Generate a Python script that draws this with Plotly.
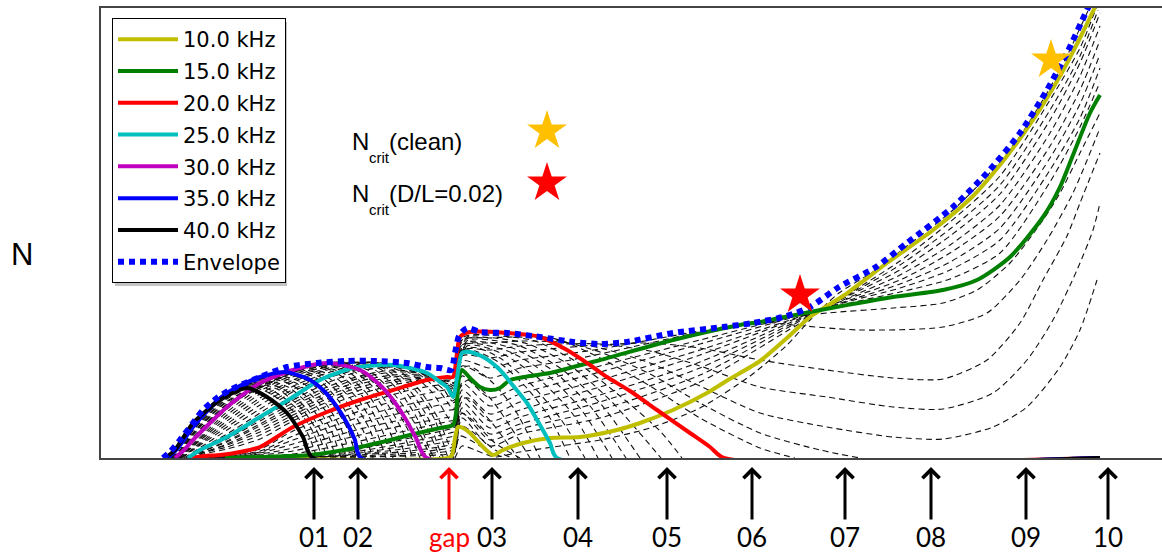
import plotly.graph_objects as go

# ---------------- data: position along the line (a.u.) vs N (a.u.) ----------------
freq_labels = ["10.0 kHz", "15.0 kHz", "20.0 kHz", "25.0 kHz", "30.0 kHz", "35.0 kHz", "40.0 kHz"]
freq_colors = ["#BFBF00", "#008000", "#FF0000", "#00BFBF", "#BF00BF", "#0000FF", "#000000"]

curve_10k = [(240, 0), (448, 0), (452, 3), (455, 20), (458, 31), (463, 30), (470, 25), (483, 11), (493, 3),
             (503, 8), (523, 15), (550, 20), (580, 21), (617, 28), (640, 35), (673, 48), (707, 65), (728, 78),
             (760, 97), (787, 120), (810, 141), (843, 162), (887, 195), (933, 228), (973, 262), (1007, 302),
             (1033, 338), (1060, 382), (1080, 420), (1097, 455)]
curve_15k = [(225, 0), (260, 1), (310, 3), (360, 11), (410, 23), (440, 30), (453, 33), (456, 45), (459, 80),
             (462, 88), (470, 80), (480, 71), (490, 68), (500, 70), (510, 78), (530, 82), (550, 85), (600, 98),
             (673, 118), (740, 133), (760, 136), (810, 146), (893, 161), (943, 168), (977, 178), (1010, 201),
             (1043, 241), (1060, 271), (1073, 303), (1090, 345), (1100, 363)]
curve_20k = [(190, 0), (205, 2), (220, 3), (240, 6), (260, 11), (293, 31), (327, 46), (360, 58), (393, 68),
             (427, 78), (447, 81), (453, 81), (457, 105), (460, 121), (470, 126), (507, 125), (540, 121),
             (567, 108), (590, 93), (607, 81), (630, 67), (657, 48), (690, 25), (710, 11), (724, 0), (1100, 0)]
curve_25k = [(188, 0), (200, 8), (227, 21), (260, 41), (293, 61), (320, 78), (353, 90), (393, 93), (427, 85),
             (440, 76), (447, 71), (453, 61), (457, 80), (462, 105), (470, 106), (485, 100), (500, 88),
             (515, 70), (527, 55), (540, 33), (550, 15), (557, 0), (1100, 0)]
curve_30k = [(175, 0), (184, 8), (193, 18), (210, 35), (227, 51), (260, 75), (293, 88), (327, 95), (360, 88),
             (380, 73), (393, 58), (405, 40), (416, 20), (427, 0), (1100, 0)]
curve_35k = [(168, 0), (178, 10), (193, 31), (210, 50), (227, 65), (260, 81), (285, 86), (310, 78), (325, 66),
             (337, 51), (348, 33), (355, 18), (361, 0), (1100, 0)]
curve_40k = [(165, 0), (175, 8), (183, 20), (193, 35), (220, 58), (247, 70), (267, 61), (287, 45), (303, 21),
             (313, 0), (1100, 0)]

envelope = [(163, 0), (170, 6), (180, 18), (193, 35), (203, 48), (217, 60), (232, 69), (260, 81), (287, 91),
            (317, 95), (347, 97), (377, 97), (407, 95), (427, 91), (440, 90), (451, 88), (455, 105), (459, 122),
            (464, 128), (468, 130), (480, 126), (507, 125), (540, 121), (573, 116), (600, 114), (627, 116),
            (673, 125), (723, 131), (753, 135), (787, 142), (810, 151), (839, 171), (876, 191), (907, 215),
            (953, 251), (987, 285), (1020, 325), (1047, 368), (1067, 405), (1087, 448), (1092, 458)]

# intermediate frequencies (dashed), 40 -> 35 kHz
dash_39k5 = [(165, 0), (175, 9), (193, 35), (220, 59), (248, 72), (271, 64), (293, 47), (308, 24), (317, 0)]
dash_39k = [(166, 0), (176, 9), (193, 34), (220, 60), (250, 73), (275, 66), (298, 48), (313, 26), (322, 0)]
dash_38k5 = [(166, 0), (176, 9), (193, 34), (220, 61), (254, 75), (279, 68), (302, 49), (317, 27), (327, 0)]
dash_38k = [(166, 0), (176, 9), (193, 33), (220, 61), (257, 76), (283, 69), (306, 50), (321, 27), (331, 0)]
dash_37k5 = [(166, 0), (176, 9), (193, 33), (221, 62), (260, 78), (288, 71), (311, 51), (326, 28), (336, 0)]
dash_37k = [(167, 0), (177, 9), (193, 33), (222, 62), (264, 80), (292, 73), (316, 52), (331, 28), (341, 0)]
dash_36k5 = [(167, 0), (177, 9), (193, 32), (223, 63), (268, 82), (296, 75), (321, 53), (337, 28), (346, 0)]
dash_36k = [(167, 0), (177, 9), (193, 32), (224, 63), (272, 83), (301, 76), (326, 54), (342, 27), (351, 0)]
dash_35k5 = [(168, 0), (178, 9), (193, 32), (225, 64), (278, 85), (306, 78), (331, 56), (348, 28), (356, 0)]
# 35 -> 30 kHz
dash_34k5 = [(170, 0), (180, 10), (193, 30), (227, 64), (288, 87), (316, 80), (338, 58), (356, 28), (367, 0)]
dash_34k = [(171, 0), (181, 9), (193, 28), (227, 62), (292, 88), (322, 80), (345, 58), (362, 30), (373, 0)]
dash_33k5 = [(171, 0), (181, 9), (193, 27), (227, 60), (296, 89), (327, 81), (351, 59), (369, 30), (380, 0)]
dash_33k = [(172, 0), (182, 9), (193, 25), (227, 59), (300, 90), (333, 82), (357, 60), (375, 30), (386, 0)]
dash_32k5 = [(172, 0), (182, 9), (193, 24), (227, 57), (305, 91), (338, 84), (363, 61), (381, 30), (393, 0)]
dash_32k = [(173, 0), (183, 9), (193, 23), (227, 56), (309, 92), (343, 85), (369, 62), (388, 30), (400, 0)]
dash_31k5 = [(173, 0), (183, 9), (193, 21), (227, 54), (313, 93), (348, 86), (375, 62), (395, 30), (406, 0)]
dash_31k = [(174, 0), (184, 9), (193, 20), (227, 53), (318, 94), (353, 87), (381, 63), (401, 30), (413, 0)]
dash_30k5 = [(174, 0), (184, 9), (193, 19), (227, 52), (322, 95), (357, 88), (387, 62), (407, 30), (420, 0)]
# 30 -> 25 kHz
dash_29k5 = [(176, 0), (186, 9), (227, 49), (260, 73), (300, 90), (334, 96), (368, 88), (394, 64), (414, 36),
             (431, 0)]
dash_29k = [(177, 0), (188, 9), (227, 46), (260, 70), (300, 88), (340, 96), (375, 88), (400, 66), (418, 38),
            (435, 0), (452, 0), (460, 22), (470, 18), (490, 6), (505, 0)]
dash_28k5 = [(178, 0), (189, 9), (227, 43), (260, 67), (300, 86), (346, 96), (380, 89), (405, 67), (423, 39),
             (440, 0)]
dash_28k = [(179, 0), (190, 9), (227, 40), (260, 64), (300, 84), (352, 96), (385, 89), (410, 67), (428, 40),
            (444, 0), (453, 0), (460, 32), (470, 28), (495, 8), (512, 0)]
dash_27k5 = [(180, 0), (191, 8), (227, 37), (260, 60), (300, 81), (358, 96), (392, 88), (416, 67), (434, 40),
             (448, 0)]
dash_27k = [(181, 0), (192, 8), (227, 34), (260, 57), (300, 79), (364, 96), (398, 88), (421, 66), (439, 38),
            (450, 12), (455, 10), (460, 45), (470, 40), (495, 15), (520, 0)]
dash_26k5 = [(182, 0), (193, 8), (227, 31), (260, 53), (300, 75), (370, 96), (406, 87), (432, 66), (447, 42),
             (455, 30), (460, 58), (468, 60), (492, 35), (518, 0)]
dash_26k = [(184, 0), (195, 7), (227, 28), (260, 49), (300, 72), (377, 95), (415, 86), (440, 66), (452, 50),
            (455, 50), (460, 70), (468, 78), (490, 60), (510, 32), (530, 0)]
dash_25k5 = [(186, 0), (197, 7), (227, 24), (260, 45), (300, 70), (385, 94), (421, 85), (444, 68), (452, 57),
             (456, 60), (461, 88), (469, 92), (492, 76), (515, 48), (540, 0)]
# 25 -> 20 kHz
dash_24k5 = [(189, 0), (200, 8), (227, 20), (260, 39), (293, 58), (327, 75), (360, 87), (393, 91), (427, 85),
             (450, 69), (454, 64), (459, 100), (466, 108), (478, 106), (500, 95), (525, 72), (550, 40), (570, 0)]
dash_24k = [(189, 0), (200, 7), (227, 19), (260, 37), (293, 55), (327, 71), (360, 82), (393, 88), (427, 84),
            (450, 70), (454, 67), (459, 95), (466, 110), (478, 110), (500, 100), (530, 75), (560, 40), (585, 0)]
dash_23k5 = [(189, 0), (201, 6), (227, 17), (260, 34), (293, 52), (327, 68), (360, 80), (393, 86), (427, 84),
             (450, 72), (455, 70), (460, 98), (467, 112), (480, 112), (505, 103), (538, 80), (572, 45), (598, 0)]
dash_23k = [(189, 0), (201, 6), (227, 16), (260, 32), (293, 49), (327, 65), (360, 77), (393, 83), (427, 83),
            (450, 74), (455, 72), (460, 100), (467, 114), (480, 114), (510, 106), (545, 85), (580, 50), (612, 0)]
dash_22k5 = [(190, 0), (202, 5), (227, 14), (260, 29), (293, 46), (327, 62), (360, 74), (393, 81), (427, 82),
             (450, 76), (455, 74), (460, 103), (468, 116), (485, 116), (515, 109), (552, 88), (590, 52), (626, 0)]
dash_22k = [(190, 0), (202, 5), (227, 13), (260, 26), (293, 43), (327, 59), (360, 71), (393, 78), (427, 81),
            (450, 77), (455, 76), (460, 106), (468, 118), (490, 118), (520, 112), (560, 90), (600, 55), (640, 0)]
dash_21k5 = [(190, 0), (202, 5), (227, 11), (260, 23), (293, 40), (327, 56), (360, 68), (393, 76), (427, 80),
             (450, 79), (455, 78), (460, 110), (468, 120), (495, 120), (528, 114), (568, 94), (610, 58), (661, 0)]
dash_21k = [(190, 0), (203, 4), (227, 9), (260, 19), (293, 37), (327, 52), (360, 64), (393, 73), (427, 79),
            (450, 80), (455, 80), (460, 113), (469, 122), (500, 122), (535, 117), (575, 97), (620, 62), (660, 27),
            (682, 0)]
# 20 -> 15 kHz
dash_19k = [(195, 0), (260, 9), (293, 27), (360, 53), (410, 68), (450, 75), (455, 76), (462, 120), (490, 124),
            (520, 124), (560, 118), (600, 100), (650, 72), (700, 40), (760, 10), (795, 0)]
dash_18k5 = [(200, 0), (260, 7), (293, 22), (360, 47), (410, 61), (450, 69), (455, 70), (462, 118), (490, 120),
             (520, 121), (560, 117), (600, 106), (650, 84), (700, 55), (760, 25), (820, 8), (860, 0)]
dash_18k = [(205, 0), (260, 6), (293, 18), (360, 41), (410, 54), (450, 62), (455, 63), (462, 113), (490, 115),
            (520, 117), (560, 116), (600, 110), (650, 95), (700, 72), (760, 45), (827, 31), (893, 21), (943, 19),
            (993, 31), (1027, 51), (1060, 91), (1080, 128), (1097, 178)]
dash_17k5 = [(210, 0), (260, 5), (293, 14), (360, 35), (410, 47), (450, 55), (455, 56), (462, 108), (490, 108),
             (520, 112), (560, 114), (600, 114), (650, 107), (700, 92), (760, 71), (827, 61), (893, 51),
             (943, 49), (993, 65), (1027, 98), (1053, 138), (1077, 188), (1093, 228), (1100, 255)]
dash_17k = [(214, 0), (260, 4), (293, 10), (360, 29), (410, 40), (450, 48), (455, 49), (462, 102), (490, 100),
            (520, 106), (560, 110), (600, 113), (650, 115), (700, 110), (760, 98), (827, 88), (893, 80), (943, 79),
            (987, 98), (1020, 135), (1043, 178), (1067, 222), (1080, 255), (1100, 305)]
dash_16k5 = [(218, 0), (260, 3), (293, 7), (360, 23), (410, 34), (450, 41), (455, 42), (462, 97), (490, 90),
             (520, 98), (560, 103), (600, 109), (650, 118), (700, 127), (760, 136), (793, 133), (860, 128),
             (943, 131), (987, 145), (1020, 178), (1047, 218), (1073, 265), (1100, 330)]
dash_16k = [(222, 0), (260, 2), (293, 4), (360, 17), (410, 28), (450, 37), (455, 38), (462, 92), (490, 80),
            (520, 90), (560, 96), (600, 104), (650, 115), (700, 126), (760, 137), (827, 145), (893, 150),
            (943, 155), (977, 168), (1010, 195), (1043, 238), (1060, 265), (1080, 305), (1100, 345)]
# 15 -> 10 kHz and below
dash_14k5 = [(237, 0), (300, 2), (360, 9), (410, 20), (450, 29), (455, 31), (462, 82), (490, 60), (520, 72),
             (600, 92), (700, 118), (787, 140), (850, 155), (900, 166), (950, 179), (1000, 205), (1050, 276),
             (1080, 331), (1100, 376)]
dash_14k = [(250, 0), (310, 2), (360, 7), (410, 16), (450, 25), (455, 27), (462, 75), (490, 52), (520, 64),
            (600, 86), (700, 114), (787, 139), (850, 157), (900, 170), (950, 188), (1000, 218), (1050, 288),
            (1080, 340), (1100, 390)]
dash_13k5 = [(258, 0), (315, 1), (360, 5), (410, 13), (450, 21), (455, 23), (462, 68), (490, 44), (520, 56),
             (600, 78), (700, 108), (787, 137), (850, 158), (900, 174), (950, 196), (1000, 230), (1050, 300),
             (1080, 354), (1100, 404)]
dash_13k = [(265, 0), (320, 1), (360, 4), (410, 10), (450, 17), (455, 19), (462, 62), (490, 37), (520, 48),
            (600, 71), (700, 103), (787, 136), (850, 160), (900, 178), (950, 205), (1000, 242), (1050, 312),
            (1080, 368), (1100, 418)]
dash_12k5 = [(272, 0), (340, 2), (410, 7), (450, 13), (455, 15), (462, 56), (490, 30), (520, 41), (600, 63),
             (700, 96), (787, 134), (850, 161), (900, 183), (950, 213), (1000, 253), (1050, 325), (1080, 382),
             (1100, 432)]
dash_12k = [(280, 0), (360, 2), (410, 5), (450, 10), (455, 12), (462, 50), (490, 24), (520, 34), (600, 56),
            (700, 90), (787, 132), (850, 163), (900, 188), (950, 222), (1000, 264), (1050, 338), (1080, 395),
            (1100, 445)]
dash_11k5 = [(290, 0), (360, 1), (410, 3), (450, 7), (455, 9), (462, 45), (490, 18), (520, 29), (600, 48),
             (700, 83), (787, 130), (850, 164), (900, 193), (950, 229), (1000, 273), (1050, 348), (1080, 402),
             (1098, 448)]
dash_11k = [(300, 0), (360, 1), (410, 2), (450, 4), (455, 6), (462, 40), (490, 12), (520, 24), (600, 40),
            (700, 76), (787, 127), (850, 165), (900, 197), (950, 236), (1000, 282), (1050, 358), (1080, 410),
            (1097, 452)]
dash_9k5 = [(455, 0), (462, 12), (475, 8), (495, 1), (520, 6), (560, 12), (600, 18), (650, 30), (700, 50),
            (750, 82), (787, 113), (810, 138), (839, 165), (876, 188), (907, 212), (953, 248), (987, 282),
            (1020, 322), (1047, 365), (1067, 402), (1087, 445), (1092, 455)]

# critical points (stars)
ncrit_pos = [1051, 800]
ncrit_n = [398, 163]
ncrit_colors = ["#FFC000", "#FF0000"]
ncrit_names = ["(clean)", "(D/L=0.02)"]

# stations marked below the axis
station_pos = [314, 358, 449, 492, 578, 667, 752, 845, 931, 1026, 1108]
station_labels = ["01", "02", "gap", "03", "04", "05", "06", "07", "08", "09", "10"]
station_colors = ["black", "black", "red", "black", "black", "black", "black", "black", "black", "black", "black"]

# ---------------- figure ----------------
solid_curves = [curve_10k, curve_15k, curve_20k, curve_25k, curve_30k, curve_35k, curve_40k]
dashed_curves = [dash_39k5, dash_39k, dash_38k5, dash_38k, dash_37k5, dash_37k, dash_36k5, dash_36k, dash_35k5,
                 dash_34k5, dash_34k, dash_33k5, dash_33k, dash_32k5, dash_32k, dash_31k5, dash_31k, dash_30k5,
                 dash_29k5, dash_29k, dash_28k5, dash_28k, dash_27k5, dash_27k, dash_26k5, dash_26k, dash_25k5,
                 dash_24k5, dash_24k, dash_23k5, dash_23k, dash_22k5, dash_22k, dash_21k5, dash_21k,
                 dash_19k, dash_18k5, dash_18k, dash_17k5, dash_17k, dash_16k5, dash_16k,
                 dash_14k5, dash_14k, dash_13k5, dash_13k, dash_12k5, dash_12k, dash_11k5, dash_11k, dash_9k5]

X0, X1 = 101, 1162
Y0, Y1 = 0, 450

fig = go.Figure()

for c in dashed_curves:
    fig.add_trace(go.Scatter(
        x=[p[0] for p in c], y=[p[1] for p in c], mode="lines",
        line=dict(color="#111111", width=1.1, dash="6px,4px", shape="spline", smoothing=0.7),
        showlegend=False, hoverinfo="skip"))

for i, (c, name, col) in enumerate(zip(solid_curves, freq_labels, freq_colors)):
    fig.add_trace(go.Scatter(
        x=[p[0] for p in c], y=[p[1] for p in c], mode="lines", name=name,
        legendgroup="g%d" % i,
        line=dict(color=col, width=4, shape="spline", smoothing=0.7)))

fig.add_trace(go.Scatter(
    x=[p[0] for p in envelope], y=[p[1] for p in envelope], mode="lines", name="Envelope",
    legendgroup="env",
    line=dict(color="#0000FF", width=6, dash="6px,5px", shape="spline", smoothing=0.7)))

# N_crit stars on the curves
fig.add_trace(go.Scatter(
    x=ncrit_pos, y=ncrit_n, mode="markers", showlegend=False, hoverinfo="skip",
    marker=dict(symbol="star", size=30, color=ncrit_colors, line=dict(width=0))))

# key for the stars
key_x = [547, 547]
key_y = [327, 275]
fig.add_trace(go.Scatter(
    x=key_x, y=key_y, mode="markers", showlegend=False, hoverinfo="skip",
    marker=dict(symbol="star", size=30, color=ncrit_colors, line=dict(width=0))))

annotations = []
txt_font = dict(family="Liberation Sans, Arial, sans-serif", color="black")
for k, name in enumerate(ncrit_names):
    ybase = [316.4, 264.4][k]
    annotations.append(dict(x=350, y=ybase, xref="x", yref="y", text="N", showarrow=False,
                            xanchor="left", yanchor="middle", font=dict(size=24, **txt_font)))
    annotations.append(dict(x=367, y=ybase - 16.2, xref="x", yref="y", text="crit", showarrow=False,
                            xanchor="left", yanchor="middle", font=dict(size=15, **txt_font)))
    annotations.append(dict(x=387, y=ybase, xref="x", yref="y", text=name, showarrow=False,
                            xanchor="left", yanchor="middle", font=dict(size=24, **txt_font)))

# y-axis label
annotations.append(dict(x=-0.0745, y=0.452, xref="paper", yref="paper", text="N", showarrow=False,
                        xanchor="center", yanchor="middle", font=dict(size=31, **txt_font)))

# station arrows
for pos, lab, col in zip(station_pos, station_labels, station_colors):
    annotations.append(dict(x=pos, y=-0.02, xref="x", yref="paper", text=lab, showarrow=True,
                            ax=0, ay=70, arrowhead=4, arrowsize=1.1, arrowwidth=3, arrowcolor=col,
                            font=dict(family="Lato, Open Sans, sans-serif", size=26, color=col)))

# soft shadow behind the legend box
shapes = [dict(type="rect", xref="paper", yref="paper",
               x0=(115 - X0) / (X1 - X0), x1=(287 - X0) / (X1 - X0),
               y0=(458 - 286) / 450, y1=(458 - 22) / 450,
               line=dict(width=0), fillcolor="#C4C4C4", layer="above")]

fig.update_layout(
    width=1162, height=554,
    margin=dict(l=101, r=0, t=8, b=96),
    plot_bgcolor="white", paper_bgcolor="white",
    showlegend=True,
    legend=dict(x=(112 - X0) / (X1 - X0), y=(458 - 18) / 450, xanchor="left", yanchor="top",
                bgcolor="white", bordercolor="black", borderwidth=1,
                font=dict(family="DejaVu Sans", size=21, color="black"),
                tracegroupgap=1.5, itemwidth=60),
    xaxis=dict(range=[X0, X1], showgrid=False, zeroline=False, showticklabels=False, ticks="",
               showline=True, linecolor="#444444", linewidth=1.5, mirror=True),
    yaxis=dict(range=[Y0, Y1], showgrid=False, zeroline=False, showticklabels=False, ticks="",
               showline=True, linecolor="#444444", linewidth=1.5, mirror=False),
    annotations=annotations,
    shapes=shapes,
)

fig.write_html("out.html", config={"displayModeBar": False},
               post_script="document.body.style.margin='0px';")
